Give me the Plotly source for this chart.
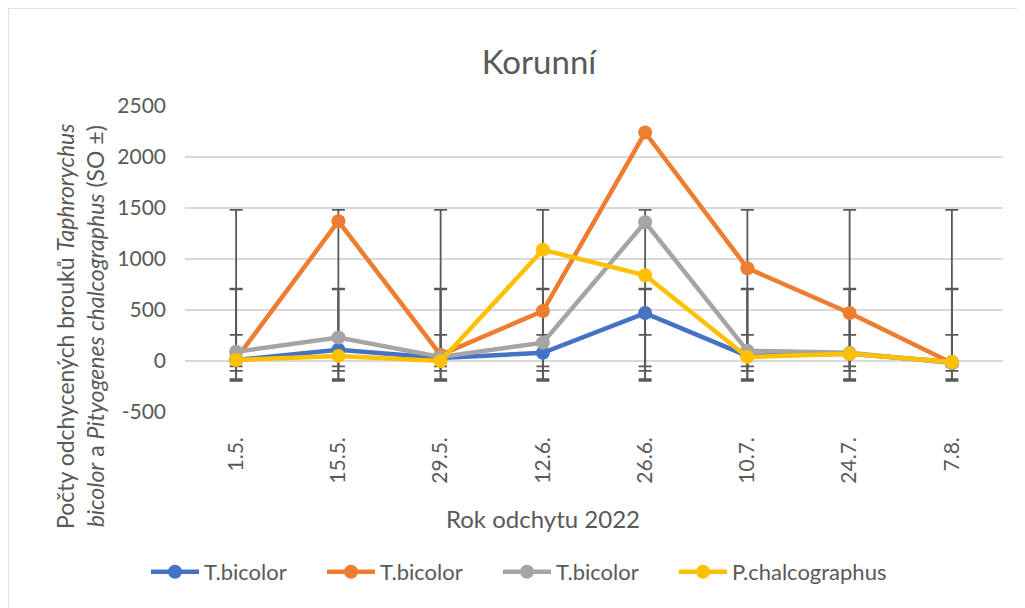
import numpy as np
import plotly.graph_objects as go

categories = ["1.5.", "15.5.", "29.5.", "12.6.", "26.6.", "10.7.", "24.7.", "7.8."]
series_names = ["T.bicolor", "T.bicolor", "T.bicolor", "P.chalcographus"]
blue_vals = [10, 110, 30, 80, 470, 50, 70, -10]
orange_vals = [20, 1370, 60, 490, 2240, 910, 470, -20]
gray_vals = [90, 230, 40, 180, 1360, 100, 80, -20]
yellow_vals = [10, 50, 0, 1090, 840, 40, 70, -10]
colors = ["#4472C4", "#ED7D31", "#A5A5A5", "#FFC000"]
y_ticks = [-500, 0, 500, 1000, 1500, 2000, 2500]

all_series = [blue_vals, orange_vals, gray_vals, yellow_vals]

FONT = "Lato"
TXT = "#595959"
OFF = 8  # page body margin

fig = go.Figure()

# Excel-style "standard deviation" error bars: centred on the series mean, +/- sample SD
for vals in all_series:
    arr = np.array(vals, dtype=float)
    m = arr.mean()
    sd = arr.std(ddof=1)
    fig.add_trace(go.Scatter(
        x=categories, y=[m] * len(categories), mode="markers",
        marker=dict(color="rgba(0,0,0,0)", size=1),
        error_y=dict(type="constant", value=sd, color="#595959", thickness=1.8, width=6.5),
        showlegend=False, hoverinfo="skip"))

legend_names = ["legend", "legend2", "legend3", "legend4"]
for name, vals, col, lg in zip(series_names, all_series, colors, legend_names):
    fig.add_trace(go.Scatter(
        x=categories, y=vals, name=name, mode="lines+markers",
        line=dict(color=col, width=4.5),
        marker=dict(color=col, size=14), legend=lg))

W, H = 1025 - OFF, 608 - OFF
PL, PR, PT, PB = 185 - OFF, 1003 - OFF, 106 - OFF, 412 - OFF
pw, ph = PR - PL, PB - PT

def px_x(px):
    return (px - OFF - PL) / pw

def px_y(py):
    return (PB - (py - OFF)) / ph

legend_starts = [150, 326, 502, 678]
legend_common = dict(orientation="h", xanchor="left", yanchor="middle", y=px_y(572),
                     font=dict(size=22, color=TXT, family=FONT), itemwidth=48,
                     bgcolor="rgba(0,0,0,0)")
legend_layout = {}
for lg, sx in zip(legend_names, legend_starts):
    legend_layout[lg] = dict(legend_common, x=px_x(sx - 4))

fig.update_layout(
    width=W, height=H,
    margin=dict(l=PL, r=W - PR, t=PT, b=H - PB),
    paper_bgcolor="white", plot_bgcolor="white",
    font=dict(family=FONT, color=TXT),
    title=dict(text="Korunní", font=dict(size=33, color=TXT, family=FONT),
               xref="paper", x=px_x(539), xanchor="center",
               yref="container", y=1 - (62 - OFF) / H, yanchor="middle"),
    showlegend=True,
    xaxis=dict(type="category", range=[-0.5, 7.5], showgrid=False, zeroline=False,
               showline=False, tickangle=-90, ticklabelstandoff=20,
               tickfont=dict(size=21, color=TXT, family=FONT)),
    yaxis=dict(range=[-500, 2500], tickvals=y_ticks, ticktext=[str(v) for v in y_ticks],
               showgrid=True, gridcolor="#d9d9d9", gridwidth=1.5, zeroline=False,
               showline=False, ticklabelstandoff=18,
               tickfont=dict(size=21, color=TXT, family=FONT)),
    shapes=[dict(type="rect", xref="paper", yref="paper",
                 x0=px_x(8), x1=px_x(1030), y0=px_y(620), y1=px_y(8),
                 line=dict(color="#d9d9d9", width=1.5), layer="below")],
    annotations=[
        dict(text="Rok odchytu 2022", xref="paper", yref="paper",
             x=px_x(543), y=px_y(518), xanchor="center", yanchor="middle",
             showarrow=False, font=dict(size=24, color=TXT, family=FONT)),
        dict(text="Počty odchycených brouků <i>Taphrorychus</i><br><i>bicolor</i> a <i>Pityogenes chalcographus</i> (SO ±)",
             xref="paper", yref="paper", x=px_x(80), y=px_y(326),
             xanchor="center", yanchor="middle", textangle=-90,
             showarrow=False, font=dict(size=23, color=TXT, family=FONT)),
    ],
    **legend_layout,
)

fig.write_html("out.html")
